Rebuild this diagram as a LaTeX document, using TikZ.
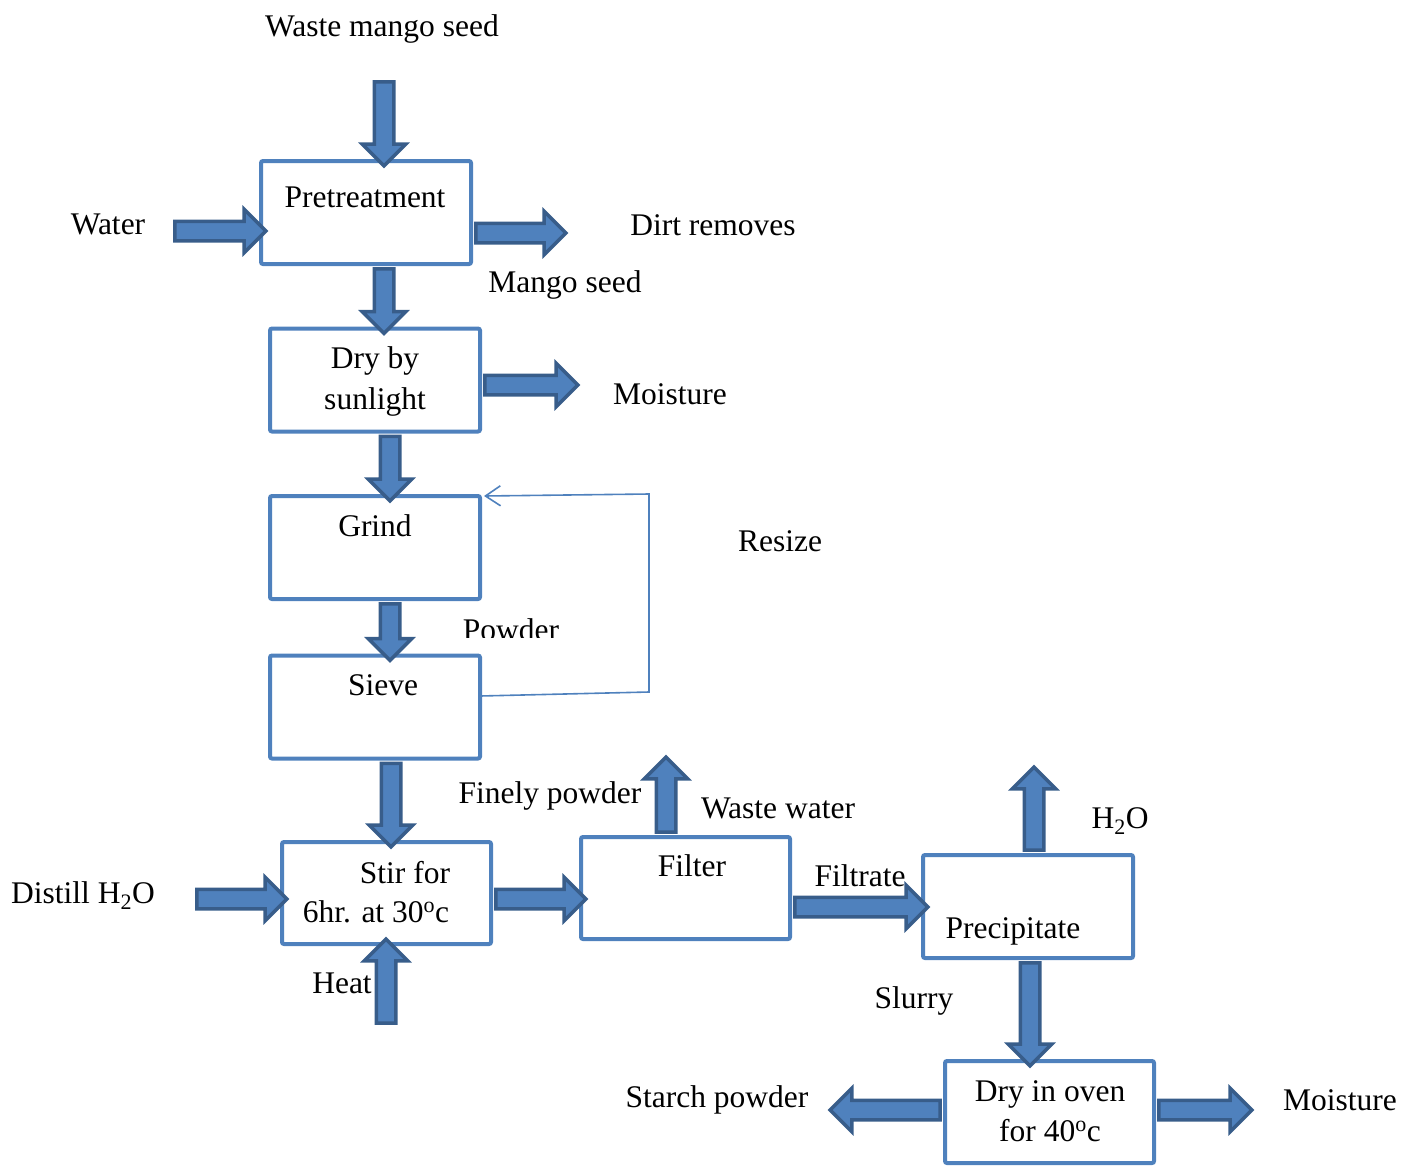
\documentclass[tikz,border=0pt]{standalone}
\usepackage{fontspec}
\setmainfont{Liberation Serif}
\usetikzlibrary{shapes.arrows,calc,arrows.meta}
\definecolor{boxblue}{HTML}{4F81BD}
\definecolor{arrowdark}{HTML}{385D8A}
\tikzset{
  every node/.style={inner sep=0pt, font=\fontsize{31.5}{40}\selectfont},
  lbl/.style={anchor=base},
  procbox/.style={draw=boxblue, line width=4pt, fill=white, rounded corners=2pt, minimum width=210pt, minimum height=103pt, outer sep=0pt},
  barrow/.style={single arrow, draw=arrowdark, fill=boxblue, line width=3.5pt, single arrow head extend=12pt, single arrow tip angle=90, inner xsep=0pt, inner ysep=8pt, minimum width=0pt, anchor=center},
  resizeline/.style={draw=boxblue, line width=1.6pt, -{Straight Barb[length=15pt,width=20pt,line width=1.6pt]}}
}
\newcommand\blockarrow[2]{\path let \p1=(#1), \p2=(#2), \n1={veclen(\x2-\x1,\y2-\y1)}, \n2={atan2(\y2-\y1,\x2-\x1)} in node[barrow, minimum height={\n1}, rotate=\n2] at ($(\p1)!0.5!(\p2)$) {};}
\begin{document}
\begin{tikzpicture}[x=1pt,y=-1pt]
\useasboundingbox (0,0) rectangle (1418,1165);
% boxes
\node[procbox] (pre) at (366,212.5) {};
\node[procbox] (dry) at (375,380) {};
\node[procbox] (grind) at (375,547.5) {};
\node[procbox] (sieve) at (375,707) {};
\node[procbox, minimum width=209pt, minimum height=102pt] (stir) at (386.5,893) {};
\node[procbox, minimum width=209pt, minimum height=102pt] (filter) at (685.5,888) {};
\node[procbox] (precip) at (1028,906.5) {};
\node[procbox, minimum width=209pt, minimum height=102pt] (oven) at (1049.5,1112) {};
% free ends
\coordinate (seedin) at (384,77);
\coordinate (waterin) at (170,231);
\coordinate (dirtout) at (561,233);
\coordinate (moistout) at (573,385);
\coordinate (distin) at (192,899);
\coordinate (heatin) at (386,1028);
\coordinate (wwout) at (666,762);
\coordinate (h2oout) at (1034,772);
\coordinate (starchout) at (835,1110);
\coordinate (moist2out) at (1247,1110);
% block arrows
\blockarrow{seedin}{seedin |- pre.north}
\blockarrow{waterin}{waterin -| pre.west}
\blockarrow{pre.east |- dirtout}{dirtout}
\blockarrow{384,0 |- pre.south}{384,0 |- dry.north}
\blockarrow{dry.east |- moistout}{moistout}
\blockarrow{390,0 |- dry.south}{390,0 |- grind.north}
\blockarrow{390,0 |- grind.south}{390,0 |- sieve.north}
\blockarrow{391,0 |- sieve.south}{391,0 |- stir.north}
\blockarrow{distin}{distin -| stir.west}
\blockarrow{heatin}{heatin |- stir.south}
\blockarrow{stir.east |- 0,899}{filter.west |- 0,899}
\blockarrow{666,0 |- filter.north}{wwout}
\blockarrow{filter.east |- 0,907}{precip.west |- 0,907}
\blockarrow{1034,0 |- precip.north}{h2oout}
\blockarrow{1030,0 |- precip.south}{1030,0 |- oven.north}
\blockarrow{oven.west |- starchout}{starchout}
\blockarrow{oven.east |- moist2out}{moist2out}
% resize loop
\draw[resizeline] ($(sieve.east)+(0,-11)$) -- (649,692) -- (649,494) -- ($(grind.north east)+(4,0)$);
% labels
\node[lbl] (t1) at (382,36) {Waste mango seed};
\node[lbl] (t2) at (108,234) {Water};
\node[lbl] (t3) at (365,207) {Pretreatment};
\node[lbl] (t4) at (713,235) {Dirt removes};
\node[lbl] (t5) at (565,292) {Mango seed};
\node[lbl] (t6) at (375,368) {Dry by};
\node[lbl] (t7) at (375,409) {sunlight};
\node[lbl] (t8) at (670,404) {Moisture};
\node[lbl] (t9) at (375,536) {Grind};
\node[lbl] (t10) at (780,551) {Resize};
\begin{scope}
\clip (420,600) rectangle (620,637);
\node[lbl] (t11) at (511,640) {Powder};
\end{scope}
\node[lbl] (t12) at (383,695) {Sieve};
\node[lbl] (t13) at (550,803) {Finely powder};
\node[lbl] (t14) at (778,818) {Waste water};
\node[lbl] (t15) at (1120,828) {H\textsubscript{2}O};
\node[lbl] (t16) at (405,883) {Stir for};
\node[lbl] (t17) at (376,922) {6hr. at 30\textsuperscript{o}c};
\node[lbl] (t18) at (83,903) {Distill H\textsubscript{2}O};
\node[lbl] (t19) at (692,876) {Filter};
\node[lbl] (t20) at (860,886) {Filtrate};
\node[lbl] (t21) at (1013,938) {Precipitate};
\node[lbl] (t22) at (342,993) {Heat};
\node[lbl] (t23) at (914,1008) {Slurry};
\node[lbl] (t24) at (717,1107) {Starch powder};
\node[lbl] (t25) at (1050,1101) {Dry in oven};
\node[lbl] (t26) at (1050,1141) {for 40\textsuperscript{o}c};
\node[lbl] (t27) at (1340,1110) {Moisture};
\end{tikzpicture}
\end{document}
